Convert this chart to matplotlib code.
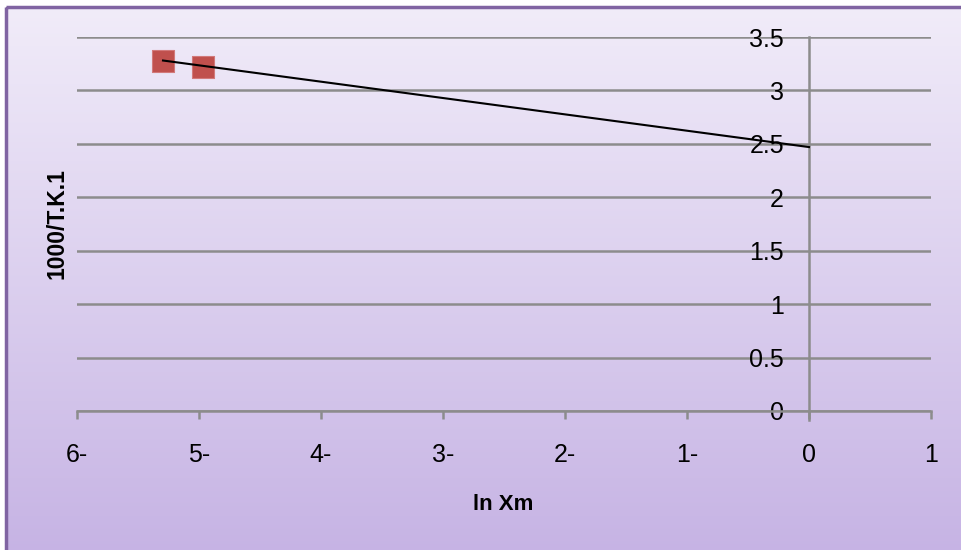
import matplotlib
matplotlib.use("Agg")
import matplotlib.pyplot as plt
import numpy as np
from matplotlib.colors import LinearSegmentedColormap
from matplotlib.patches import Rectangle

plt.rcParams['font.family'] = ['Liberation Sans', 'DejaVu Sans']

# data
x_vals = [-5.295, -4.967]
y_vals = [3.274, 3.218]
trend_x = [-5.295, 0.0]
trend_y = [3.28, 2.47]
x_ticks = [-6, -5, -4, -3, -2, -1, 0, 1]
x_tick_labels = ["6-", "5-", "4-", "3-", "2-", "1-", "0", "1"]
y_ticks = [0, 0.5, 1, 1.5, 2, 2.5, 3, 3.5]
y_tick_labels = ["0", "0.5", "1", "1.5", "2", "2.5", "3", "3.5"]

W, H = 961, 550
fig = plt.figure(figsize=(W / 100, H / 100), dpi=100)
fig.patch.set_facecolor('white')

# background gradient
bg = fig.add_axes([0, 0, 1, 1], zorder=-10)
bg.set_xlim(0, W)
bg.set_ylim(H, 0)
bg.axis('off')
cmap = LinearSegmentedColormap.from_list('g', ['#F1ECF9', '#C6B3E4'])
grad = np.linspace(0, 1, 256).reshape(-1, 1)
bg.imshow(grad, cmap=cmap, extent=[6, W + 5, H + 5, 7], aspect='auto')
bg.add_patch(Rectangle((6, 7), W, H, fill=False, edgecolor='#8064A2', lw=2.5))

ax = fig.add_axes([77 / W, 1 - 411 / H, (931 - 77) / W, (411 - 37) / H])
ax.patch.set_alpha(0)
ax.set_xlim(-6, 1)
ax.set_ylim(0, 3.5)

for s in ['top', 'right']:
    ax.spines[s].set_visible(False)
ax.spines['left'].set_position(('data', 0))
ax.spines['bottom'].set_position(('data', 0))
for s in ['left', 'bottom']:
    ax.spines[s].set_color('#8C8C8C')
    ax.spines[s].set_linewidth(1.8)
ax.spines['left'].set_bounds(-0.085, 3.5)

ax.set_yticks(y_ticks)
ax.set_yticklabels(y_tick_labels)
ax.set_xticks(x_ticks)
ax.set_xticklabels(x_tick_labels)
ax.tick_params(axis='y', length=0, pad=18, labelsize=18)
ax.tick_params(axis='x', length=6, width=1.8, color='#8C8C8C', direction='out', pad=17, labelsize=18)
ax.yaxis.grid(True, color='#8C8C8C', lw=1.8)
ax.set_axisbelow(True)

ax.plot(trend_x, trend_y, color='black', lw=1.5, zorder=3)
ax.scatter(x_vals, y_vals, marker='s', s=260, color='#C0504D', edgecolors='#D2797A', linewidths=0.8, zorder=2)

fig.text(503 / W, 1 - 505 / H, 'ln Xm', ha='center', va='center', fontsize=16, fontweight='bold')
fig.text(57 / W, 1 - 224 / H, '1000/T.K.1', ha='center', va='center', rotation=90, fontsize=16.5, fontweight='bold')

fig.savefig('out.png', dpi=100)
